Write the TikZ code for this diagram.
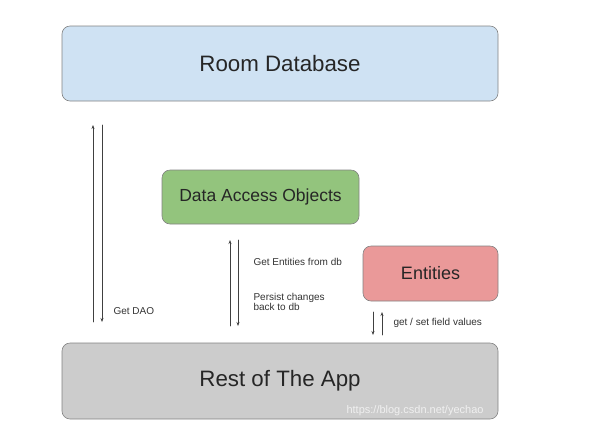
\documentclass[tikz,border=0pt]{standalone}
\usepackage{fontspec}
\setmainfont{Liberation Sans}
\usetikzlibrary{arrows.meta}
\definecolor{dbblue}{RGB}{207,226,243}
\definecolor{daogreen}{RGB}{147,196,125}
\definecolor{entred}{RGB}{234,153,153}
\definecolor{appgray}{RGB}{204,204,204}
\definecolor{edgegray}{RGB}{130,130,130}
\tikzset{
  box/.style={draw=edgegray, line width=0.6pt, rounded corners=8pt,
    inner sep=0pt, text=black!85},
  flow/.style={line width=0.6pt, draw=black!75,
    -{Stealth[length=4pt, width=3pt]}},
  note/.style={font=\fontsize{10}{12}\selectfont, text=black!80,
    anchor=west, align=left}
}

\begin{document}
\begin{tikzpicture}[x=1pt, y=-1pt, line cap=round, line join=round]
  \useasboundingbox (0,0) rectangle (601,424);

  % Boxes
  \node[box, fill=dbblue, minimum width=436pt, minimum height=75pt,
    font=\fontsize{22.3}{26}\selectfont] (db) at (280,63.5) {Room Database};
  \node[box, fill=daogreen, minimum width=197pt, minimum height=54pt,
    font=\fontsize{17.5}{20}\selectfont] (dao) at (260.5,197) {Data Access Objects};
  \node[box, fill=entred, minimum width=135pt, minimum height=55pt,
    font=\fontsize{18}{21}\selectfont] (ent) at (430.5,273.5) {Entities};
  \node[box, fill=appgray, minimum width=436pt, minimum height=76pt,
    font=\fontsize{22.3}{26}\selectfont] (app) at (280,381) {Rest of The App};

  % Arrow end points
  \coordinate (daoup0) at (93,322);   \coordinate (daoup1) at (93,125);
  \coordinate (daodn0) at (102,125);  \coordinate (daodn1) at (102,322);
  \coordinate (entup0) at (230,326);  \coordinate (entup1) at (230,240);
  \coordinate (entdn0) at (238,240);  \coordinate (entdn1) at (238,326);
  \coordinate (fldup0) at (382,335);  \coordinate (fldup1) at (382,312);
  \coordinate (flddn0) at (373,312);  \coordinate (flddn1) at (373,335);

  % Connectors
  \draw[flow] (daoup0) -- (daoup1);
  \draw[flow] (daodn0) -- (daodn1);
  \draw[flow] (entup0) -- (entup1);
  \draw[flow] (entdn0) -- (entdn1);
  \draw[flow] (fldup0) -- (fldup1);
  \draw[flow] (flddn0) -- (flddn1);

  % Labels
  \node[note] (getdao) at (110,311) {Get DAO};
  \node[note] (getent) at (250,262) {Get Entities from db};
  \node[note] (persist) at (250,302) {Persist changes\\[-2pt]back to db};
  \node[note] (field) at (390,323) {get / set field values};

  % Watermark
  \node[anchor=west, font=\fontsize{11}{13}\selectfont, text=white!88!gray]
    (mark) at (343,411) {https://blog.csdn.net/yechao};
\end{tikzpicture}
\end{document}
